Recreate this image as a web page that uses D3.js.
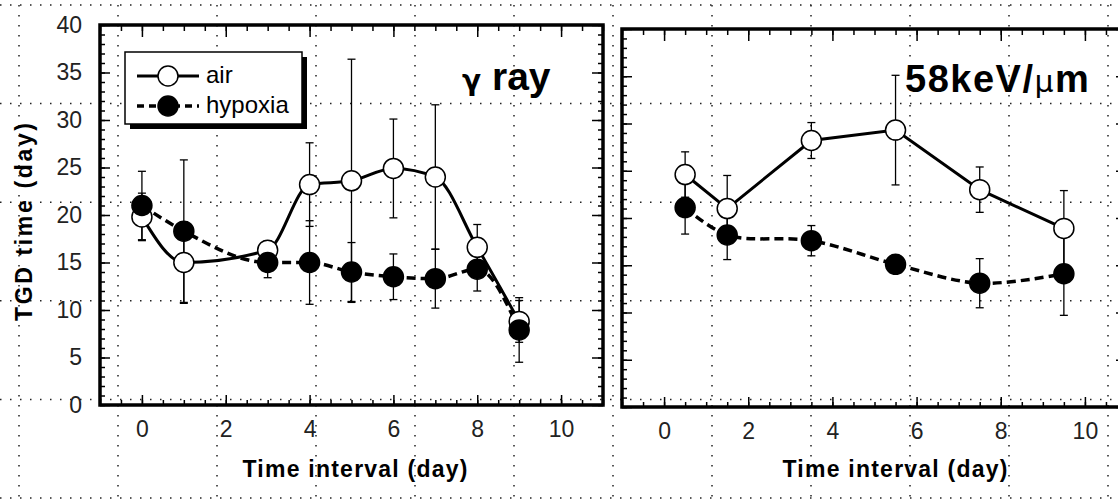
<!DOCTYPE html>
<html>
<head>
<meta charset="utf-8">
<script src="https://cdn.jsdelivr.net/npm/d3@7"></script>
<style>
  body { margin: 0; background: #fff; }
  svg { display: block; font-family: "Liberation Sans", Arial, sans-serif; }
  .axis text { font-size: 23px; fill: #222; }
  .axis line { stroke: #000; stroke-width: 1.5; }
  .axis path { display: none; }
  .frame { fill: none; stroke: #000; stroke-width: 3.5; }
  .axis-title { font-weight: bold; font-size: 23px; }
  .page-grid line { stroke: #222; stroke-width: 1.5; stroke-dasharray: 1.5 8.5; }
</style>
</head>
<body>
<svg id="chart" width="1118" height="500"></svg>
<script>
// gamma ray panel
const gammaDays = [0, 1, 3, 4, 5, 6, 7, 8, 9];
const gammaAir = [19.8, 15.0, 16.3, 23.2, 23.6, 24.9, 24.0, 16.6, 8.8];
const gammaAirErr = [2.5, 4.3, 1.0, 4.4, 12.8, 5.2, 7.6, 2.4, 2.2];
const gammaHypoxia = [21.0, 18.3, 15.0, 15.0, 14.0, 13.5, 13.3, 14.3, 7.9];
const gammaHypoxiaErr = [3.6, 7.5, 1.6, 4.4, 3.1, 2.4, 3.1, 2.3, 3.4];

// 58 keV/um panel
const letDays = [0.5, 1.5, 3.5, 5.5, 7.5, 9.5];
const letAir = [24.6, 21.0, 28.2, 29.3, 23.0, 18.9];
const letAirErr = [2.4, 3.5, 1.9, 5.8, 2.4, 4.0];
const letHypoxia = [21.1, 18.2, 17.6, 15.1, 13.1, 14.1];
const letHypoxiaErr = [2.8, 2.6, 1.6, 0.8, 2.6, 4.4];

const xTicks = [0, 2, 4, 6, 8, 10];
const yTicks = [0, 5, 10, 15, 20, 25, 30, 35, 40];
const xMinorTicks = d3.range(-1, 11.01, 0.5);
const yMinorTicks = d3.range(0, 40.01, 1);

const toPoints = (days, vals, errs) => days.map((d, i) => ({day: d, value: vals[i], err: errs[i]}));

const svg = d3.select('#chart');

// dotted page grid behind everything
const grid = svg.append('g').attr('class', 'page-grid');
grid.selectAll('.gv').data(d3.range(0, 12).map(i => 19 + 99 * i))
  .join('line').attr('class', 'gv')
  .attr('x1', d => d).attr('x2', d => d).attr('y1', 5).attr('y2', 500);
grid.selectAll('.gh').data(d3.range(0, 6).map(i => 5 + 98.6 * i))
  .join('line').attr('class', 'gh')
  .attr('y1', d => d).attr('y2', d => d).attr('x1', 0).attr('x2', 1118);

class TgdPanel {

  constructor(_config, _air, _hypoxia) {
    this.config = {
      parent: _config.parent,
      xRange: _config.xRange,
      yRange: _config.yRange,
      yLabels: _config.yLabels,
      airCurve: _config.airCurve || d3.curveMonotoneX,
      hypoxiaCurve: _config.hypoxiaCurve || d3.curveMonotoneX,
      titleX: _config.titleX
    }
    this.air = _air;
    this.hypoxia = _hypoxia;
    this.initVis();
  }

  initVis() {
    let vis = this;
    vis.xScale = d3.scaleLinear().domain([-1, 11]).range(vis.config.xRange);
    vis.yScale = d3.scaleLinear().domain([0, 40]).range(vis.config.yRange);
    vis.g = vis.config.parent.append('g');

    const [x0, x1] = vis.config.xRange;
    const [y0, y1] = vis.config.yRange;

    // axes, ticks pointing inward
    const bottom = vis.g.append('g').attr('class', 'axis').attr('transform', `translate(0,${y0})`);
    bottom.call(d3.axisBottom(vis.xScale).tickValues(xMinorTicks).tickSize(-5).tickFormat(''));
    bottom.append('g').call(d3.axisBottom(vis.xScale).tickValues(xTicks).tickSize(-10).tickPadding(16));

    const top = vis.g.append('g').attr('class', 'axis').attr('transform', `translate(0,${y1})`);
    top.call(d3.axisTop(vis.xScale).tickValues(xMinorTicks).tickSize(-6).tickFormat(''));
    top.append('g').call(d3.axisTop(vis.xScale).tickValues(xTicks).tickSize(-12).tickFormat(''));

    const left = vis.g.append('g').attr('class', 'axis').attr('transform', `translate(${x0},0)`);
    left.call(d3.axisLeft(vis.yScale).tickValues(yMinorTicks).tickSize(-5).tickFormat(''));
    left.append('g').call(d3.axisLeft(vis.yScale).tickValues(yTicks).tickSize(-10).tickPadding(18)
      .tickFormat(vis.config.yLabels ? d3.format('d') : ''));

    const right = vis.g.append('g').attr('class', 'axis').attr('transform', `translate(${x1},0)`);
    right.call(d3.axisRight(vis.yScale).tickValues(yMinorTicks).tickSize(-5).tickFormat(''));
    right.append('g').call(d3.axisRight(vis.yScale).tickValues(yTicks).tickSize(-11).tickFormat(''));

    vis.g.append('rect').attr('class', 'frame')
      .attr('x', x0).attr('y', y1).attr('width', x1 - x0).attr('height', y0 - y1);

    vis.g.append('text').attr('class', 'axis-title')
      .attr('x', vis.config.titleX).attr('y', 477)
      .attr('text-anchor', 'middle')
      .attr('textLength', 225).attr('lengthAdjust', 'spacing')
      .text('Time interval (day)');
  }

  renderVis() {
    let vis = this;
    const line = curve => d3.line()
      .x(d => vis.xScale(d.day)).y(d => vis.yScale(d.value)).curve(curve);

    vis.g.append('path').datum(vis.air)
      .attr('fill', 'none').attr('stroke', '#000').attr('stroke-width', 3)
      .attr('d', line(vis.config.airCurve));
    vis.g.append('path').datum(vis.hypoxia)
      .attr('fill', 'none').attr('stroke', '#000').attr('stroke-width', 3.5)
      .attr('stroke-dasharray', '9,5')
      .attr('d', line(vis.config.hypoxiaCurve));

    // error bars
    [vis.air, vis.hypoxia].forEach(series => {
      const eb = vis.g.append('g').selectAll('g').data(series).join('g')
        .attr('stroke', '#000').attr('stroke-width', 1.3);
      eb.append('line')
        .attr('x1', d => vis.xScale(d.day)).attr('x2', d => vis.xScale(d.day))
        .attr('y1', d => vis.yScale(d.value - d.err)).attr('y2', d => vis.yScale(d.value + d.err));
      eb.append('line')
        .attr('x1', d => vis.xScale(d.day) - 4).attr('x2', d => vis.xScale(d.day) + 4)
        .attr('y1', d => vis.yScale(d.value - d.err)).attr('y2', d => vis.yScale(d.value - d.err));
      eb.append('line')
        .attr('x1', d => vis.xScale(d.day) - 4).attr('x2', d => vis.xScale(d.day) + 4)
        .attr('y1', d => vis.yScale(d.value + d.err)).attr('y2', d => vis.yScale(d.value + d.err));
    });

    vis.g.append('g').selectAll('circle').data(vis.air).join('circle')
      .attr('cx', d => vis.xScale(d.day)).attr('cy', d => vis.yScale(d.value))
      .attr('r', 10).attr('fill', '#fff').attr('stroke', '#000').attr('stroke-width', 1.5);
    vis.g.append('g').selectAll('circle').data(vis.hypoxia).join('circle')
      .attr('cx', d => vis.xScale(d.day)).attr('cy', d => vis.yScale(d.value))
      .attr('r', 10).attr('fill', '#000').attr('stroke', '#000').attr('stroke-width', 1.5);
  }
}

const gammaPanel = new TgdPanel({
  parent: svg, xRange: [100, 603], yRange: [405, 25], yLabels: true, titleX: 355
}, toPoints(gammaDays, gammaAir, gammaAirErr), toPoints(gammaDays, gammaHypoxia, gammaHypoxiaErr));
gammaPanel.renderVis();

const letPanel = new TgdPanel({
  parent: svg, xRange: [622, 1127], yRange: [407, 29], yLabels: false, titleX: 895,
  airCurve: d3.curveLinear, hypoxiaCurve: d3.curveCatmullRom
}, toPoints(letDays, letAir, letAirErr), toPoints(letDays, letHypoxia, letHypoxiaErr));
letPanel.renderVis();

// panel titles
const t1 = svg.append('text').attr('x', 462).attr('y', 90).attr('font-weight', 'bold');
t1.append('tspan').attr('font-family', '"DejaVu Sans", sans-serif').attr('font-size', 28).text('γ');
t1.append('tspan').attr('x', 492).attr('font-size', 39).text('ray');

const t2 = svg.append('text').attr('x', 905).attr('y', 92).attr('font-weight', 'bold')
  .attr('font-size', 38).attr('letter-spacing', 1.5);
t2.append('tspan').text('58keV/');
t2.append('tspan').attr('font-family', '"DejaVu Sans", sans-serif').attr('font-size', 30).attr('font-weight', 'normal').text('μ');
t2.append('tspan').text('m');

// y axis title
svg.append('text').attr('class', 'axis-title')
  .attr('transform', 'translate(32,222) rotate(-90)')
  .attr('text-anchor', 'middle')
  .attr('textLength', 198).attr('lengthAdjust', 'spacing')
  .text('TGD time (day)');

// legend
const legend = svg.append('g');
legend.append('rect').attr('x', 130).attr('y', 57).attr('width', 177).attr('height', 72).attr('fill', '#000');
legend.append('rect').attr('x', 125).attr('y', 52).attr('width', 177).attr('height', 72)
  .attr('fill', '#fff').attr('stroke', '#000').attr('stroke-width', 1.5);
const legendItems = [
  {label: 'air', fill: '#fff', dash: null, width: 3},
  {label: 'hypoxia', fill: '#000', dash: '7,5', width: 3.5}
];
const rows = legend.selectAll('.row').data(legendItems).join('g')
  .attr('transform', (d, i) => `translate(0,${76 + i * 30})`);
rows.append('line').attr('x1', 137).attr('x2', 199)
  .attr('stroke', '#000').attr('stroke-width', d => d.width).attr('stroke-dasharray', d => d.dash);
rows.append('circle').attr('cx', 168).attr('r', 10)
  .attr('fill', d => d.fill).attr('stroke', '#000').attr('stroke-width', 1.5);
rows.append('text').attr('x', 206).attr('y', 7).attr('font-size', 24).text(d => d.label);
</script>
</body>
</html>
